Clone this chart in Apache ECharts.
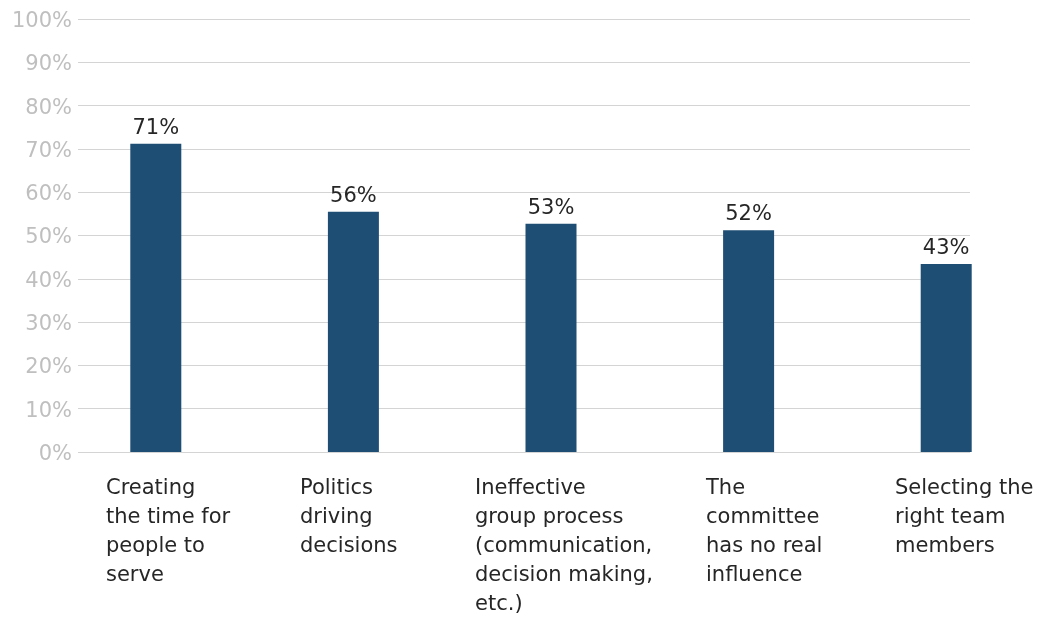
<!DOCTYPE html>
<html><head><meta charset="utf-8">
<script src="https://cdn.jsdelivr.net/npm/echarts@6/dist/echarts.min.js"></script>
<style>html,body{margin:0;padding:0;background:#fff}#c{width:1055px;height:617px}</style>
</head><body><div id="c"></div>
<script>
const categories = [
  'Creating\nthe time for\npeople to\nserve',
  'Politics\ndriving\ndecisions',
  'Ineffective\ngroup process\n(communication,\ndecision making,\netc.)',
  'The\ncommittee\nhas no real\ninfluence',
  'Selecting the\nright team\nmembers'
];
const values = [71.2, 55.5, 52.7, 51.2, 43.4];
const valueLabels = ['71%', '56%', '53%', '52%', '43%'];
const yTicks = [0, 10, 20, 30, 40, 50, 60, 70, 80, 90, 100];
const labelPads = [28, 25, 3, 37, 29];

const FONT = 'DejaVu Sans';
const rich = {};
labelPads.forEach((p, i) => {
  rich['c' + i] = { fontFamily: FONT, fontSize: 21, lineHeight: 29, color: '#262626', padding: [0, 0, 0, p] };
});

const chart = echarts.init(document.getElementById('c'));
chart.setOption({
  animation: false,
  grid: [
    { left: 78, right: 85, top: 19, bottom: 165 },
    { left: 57, width: 988, top: 19, bottom: 165 },
    { left: 78, width: 788, top: 19, bottom: 165 }
  ],
  xAxis: [
    { gridIndex: 0, type: 'category', data: categories, show: false },
    { gridIndex: 1, type: 'category', data: categories, axisLine: { show: false }, axisTick: { show: false }, axisLabel: { show: false } },
    { gridIndex: 2, type: 'category', data: categories, boundaryGap: false,
      axisLine: { show: false }, axisTick: { show: false },
      axisLabel: {
        show: true, interval: 0, align: 'left', verticalAlign: 'top', margin: 22,
        formatter: function (v, i) {
          return v.split('\n').map(l => '{c' + i + '|' + l + '}').join('\n');
        },
        rich: rich
      } }
  ],
  yAxis: [
    { gridIndex: 0, type: 'value', min: 0, max: 100, interval: 10,
      axisLine: { show: false }, axisTick: { show: false },
      axisLabel: { formatter: '{value}%', color: '#bfbfbf', fontFamily: FONT, fontSize: 21, margin: 6,
        verticalAlign: 'top', lineHeight: 5 },
      splitLine: { lineStyle: { color: '#d4d4d4', width: 1 } } },
    { gridIndex: 1, type: 'value', min: 0, max: 100, interval: 10, show: false, splitLine: { show: false } },
    { gridIndex: 2, type: 'value', min: 0, max: 100, interval: 10, show: false, splitLine: { show: false } }
  ],
  series: [{
    type: 'bar', xAxisIndex: 1, yAxisIndex: 1, data: values, barWidth: 51,
    itemStyle: { color: '#1f4e75' },
    label: { show: true, position: 'top', distance: 5, color: '#262626', fontFamily: FONT, fontSize: 21,
      formatter: p => valueLabels[p.dataIndex] }
  }]
});
</script></body></html>
